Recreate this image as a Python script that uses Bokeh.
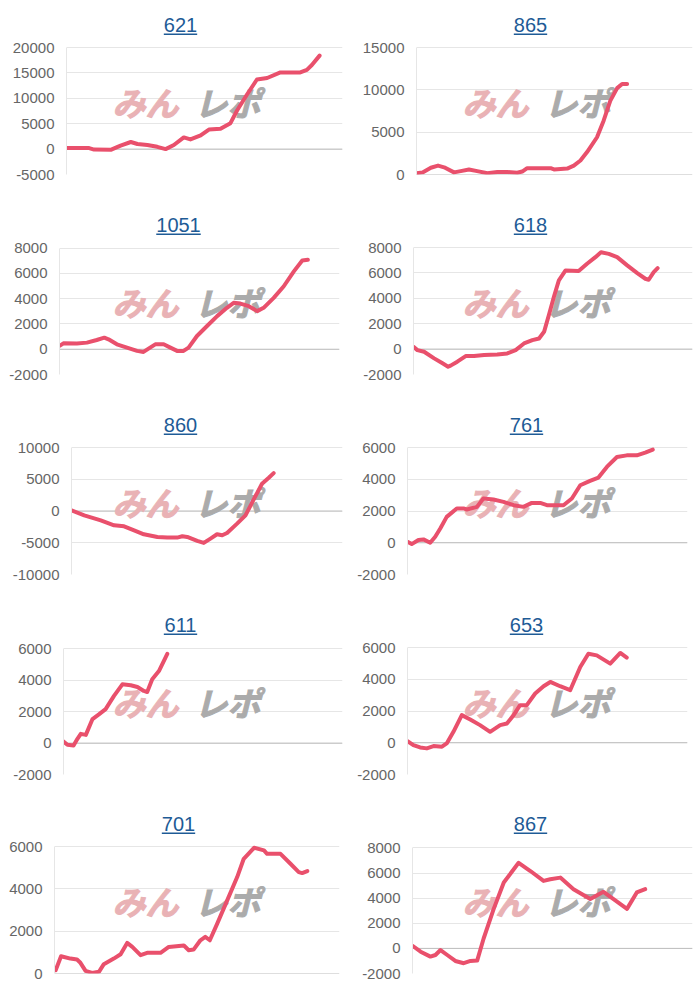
from bokeh.plotting import figure
from bokeh.models import Label, BoxAnnotation, FixedTicker, Range1d, Span
from bokeh.layouts import column, row
from bokeh.embed import file_html
from bokeh.resources import INLINE

# ---------------- data ----------------
titles = ["621", "865", "1051", "618", "860", "761", "611", "653", "701", "867"]

x_621 = [0, 8.2, 10.0, 16.0, 19.6, 23.3, 25.7, 29.3, 32.9, 35.9, 38.9, 42.5, 44.9, 48.6, 51.6, 55.8, 59.4, 61.8, 65.4, 69.0, 72.7, 77.5, 84.7, 87.1, 88.9, 91.7]
y_621 = [200, 200, -100, -150, 700, 1400, 1000, 800, 450, 0, 800, 2300, 1900, 2700, 3850, 4000, 5100, 7600, 10750, 13700, 14000, 15100, 15100, 15600, 16550, 18400]

x_865 = [0, 2.2, 5.2, 7.8, 10.0, 13.6, 16.0, 19.0, 22.0, 25.7, 29.3, 32.9, 36.5, 38.3, 40.1, 48.6, 49.8, 54.6, 57.0, 59.4, 61.8, 65.4, 67.8, 70.2, 72.7, 74.5, 76.3]
y_865 = [150, 250, 800, 1050, 850, 250, 400, 600, 400, 150, 300, 300, 200, 350, 750, 750, 600, 700, 1050, 1650, 2650, 4400, 6350, 8700, 10200, 10700, 10700]

x_1051 = [0, 1.4, 6.2, 9.8, 13.3, 16.0, 17.5, 20.5, 24.1, 27.7, 30.0, 31.8, 34.2, 37.2, 39.6, 42.0, 44.3, 46.1, 49.1, 52.7, 56.3, 59.8, 62.2, 64.6, 67.6, 70.6, 72.9, 76.5, 80.1, 83.7, 86.7, 88.7]
y_1051 = [260, 470, 450, 525, 735, 920, 790, 390, 130, -130, -210, 50, 390, 390, 130, -130, -130, 130, 1050, 1840, 2625, 3280, 3675, 3620, 3410, 3020, 3280, 4070, 4990, 6170, 7035, 7090]

x_618 = [0, 1.4, 3.8, 7.4, 10.4, 12.4, 13.3, 15.7, 18.7, 21.7, 25.3, 30.0, 33.6, 36.6, 39.6, 42.6, 45.0, 46.8, 48.5, 50.3, 52.1, 54.5, 59.2, 62.2, 65.2, 67.2, 70.0, 73.0, 76.6, 80.2, 83.1, 84.3, 86.1, 87.5]
y_618 = [180, -80, -210, -730, -1120, -1385, -1300, -990, -550, -550, -470, -420, -340, -80, 445, 705, 835, 1360, 2665, 4100, 5410, 6195, 6150, 6720, 7240, 7630, 7500, 7240, 6590, 5985, 5540, 5460, 6065, 6380]

x_860 = [0, 4.7, 10.8, 15.7, 19.4, 23.1, 26.7, 31.7, 35.3, 39.0, 40.9, 42.7, 46.4, 48.8, 51.3, 53.7, 55.6, 57.4, 61.1, 64.2, 67.2, 70.3, 72.8, 74.6]
y_860 = [100, -680, -1470, -2250, -2410, -3040, -3665, -4085, -4190, -4190, -3980, -4085, -4710, -5025, -4345, -3665, -3820, -3455, -1990, -680, 1780, 4295, 5235, 5970]

x_761 = [0, 1.5, 3.9, 5.7, 8.1, 9.9, 11.7, 14.0, 17.6, 20.0, 21.2, 24.8, 27.1, 30.7, 34.3, 37.9, 41.4, 44.4, 47.4, 49.8, 55.7, 58.7, 61.7, 65.2, 68.2, 71.2, 74.8, 78.3, 81.9, 84.9, 87.6]
y_761 = [60, -85, 170, 210, 0, 380, 900, 1630, 2160, 2160, 2095, 2260, 2785, 2720, 2575, 2365, 2260, 2510, 2510, 2365, 2365, 2785, 3620, 3895, 4105, 4775, 5400, 5505, 5505, 5675, 5865]

x_611 = [0, 1.4, 3.6, 5.0, 6.2, 8.0, 10.4, 12.8, 15.1, 18.1, 21.1, 24.1, 26.5, 28.8, 30.0, 31.8, 34.2, 37.2]
y_611 = [105, -105, -150, 275, 590, 525, 1535, 1850, 2170, 3010, 3745, 3685, 3580, 3325, 3260, 4065, 4590, 5685]

x_653 = [0, 2.1, 4.5, 6.9, 9.3, 12.3, 14.0, 16.4, 19.4, 22.4, 25.9, 29.5, 33.1, 35.5, 37.9, 40.2, 42.6, 45.6, 48.6, 51.0, 54.5, 58.1, 61.7, 64.6, 67.6, 72.4, 76.0, 78.3]
y_653 = [105, -145, -295, -355, -210, -250, -40, 690, 1740, 1465, 1110, 690, 1110, 1215, 1740, 2365, 2365, 3100, 3560, 3830, 3560, 3310, 4775, 5610, 5505, 4985, 5655, 5360]

x_701 = [0.4, 2.3, 5.6, 7.9, 9.1, 10.9, 13.2, 15.6, 17.3, 20.8, 23.2, 25.5, 27.3, 30.2, 32.5, 37.2, 40.1, 45.4, 47.1, 48.8, 51.2, 52.9, 54.5, 57.1, 60.6, 64.1, 66.4, 70.0, 73.5, 74.6, 79.3, 82.8, 85.7, 86.9, 88.7]
y_701 = [155, 815, 705, 660, 505, 125, 30, 80, 440, 705, 910, 1445, 1255, 865, 975, 975, 1255, 1320, 1100, 1130, 1570, 1730, 1570, 2355, 3455, 4555, 5420, 5940, 5815, 5655, 5655, 5185, 4790, 4745, 4840]

x_867 = [0, 2.9, 6.4, 8.2, 10.0, 12.4, 15.3, 18.3, 20.7, 23.1, 25.4, 29.0, 32.6, 37.9, 42.1, 46.8, 49.2, 52.8, 57.5, 63.5, 68.2, 71.8, 76.6, 80.1, 83.1]
y_867 = [210, -260, -655, -525, -130, -525, -1000, -1180, -1000, -970, 790, 3150, 5245, 6820, 6165, 5375, 5510, 5640, 4720, 3935, 4510, 3935, 3150, 4460, 4720]

xs = [x_621, x_865, x_1051, x_618, x_860, x_761, x_611, x_653, x_701, x_867]
ys = [y_621, y_865, y_1051, y_618, y_860, y_761, y_611, y_653, y_701, y_867]

y_ticks = [
    [-5000, 0, 5000, 10000, 15000, 20000],
    [0, 5000, 10000, 15000],
    [-2000, 0, 2000, 4000, 6000, 8000],
    [-2000, 0, 2000, 4000, 6000, 8000],
    [-10000, -5000, 0, 5000, 10000],
    [-2000, 0, 2000, 4000, 6000],
    [-2000, 0, 2000, 4000, 6000],
    [-2000, 0, 2000, 4000, 6000],
    [0, 2000, 4000, 6000],
    [-2000, 0, 2000, 4000, 6000, 8000],
]

# ---------------- layout / style ----------------
LINE = "#e9506c"
GRID = "#e6e6e6"
ZERO = "#bdbdbd"
TITLE_C = "#1e5b96"
FONT = "Liberation Sans"
DATA_H = 127          # pixel height between the top and bottom tick
FRAME_TOP = 4         # frame starts this far below the figure top (title lives in frame)
FIG_W = 350

border_left = [66, 66, 59, 63, 71, 57, 63, 57, 54, 62]
border_right = [8, 8, 11, 8, 8, 13, 8, 13, 11, 8]
tick_top = [47, 47, 48, 47, 47, 47, 49, 47, 46, 48]     # top tick line below figure top
row_h = [200, 200, 200, 200, 198]
title_cx = [180, 180, 178, 180, 180, 176, 180, 176, 178, 180]   # relative to figure left
WM_SPLIT_L, WM_SPLIT_R = 178, 194                               # watermark halves, rel. figure left

figs = []
for i, name in enumerate(titles):
    r = i // 2
    h = row_h[r]
    bl, br, tt = border_left[i], border_right[i], tick_top[i]
    ticks = y_ticks[i]
    lo, hi = ticks[0], ticks[-1]
    extra = (hi - lo) * (tt - FRAME_TOP) / DATA_H
    p = figure(width=FIG_W, height=h, output_backend="svg", toolbar_location=None,
               title=None, x_axis_location=None,
               x_range=Range1d(0, 100), y_range=Range1d(lo, hi + extra),
               min_border_left=bl, min_border_right=br, min_border_top=FRAME_TOP,
               min_border_bottom=h - tt - DATA_H)
    p.outline_line_color = None
    p.background_fill_color = "white"
    p.border_fill_color = "white"
    p.xgrid.visible = False
    tk = FixedTicker(ticks=ticks)
    p.yaxis.ticker = tk
    p.ygrid.ticker = tk
    p.yaxis.bounds = (lo, hi)
    p.yaxis.major_label_overrides = {t: str(t) for t in ticks}
    p.ygrid.grid_line_color = GRID
    p.ygrid.grid_line_width = 1
    p.yaxis.axis_line_color = GRID
    p.yaxis.major_tick_line_color = None
    p.yaxis.minor_tick_line_color = None
    p.yaxis.major_tick_out = 0
    p.yaxis.major_label_standoff = 12
    p.yaxis.major_label_text_font = FONT
    p.yaxis.major_label_text_font_size = "15px"
    p.yaxis.major_label_text_color = "#666666"

    # zero line
    p.add_layout(Span(location=0, dimension="width", line_color=ZERO, line_width=1, level="underlay"))

    # watermark (logo text)
    wy = DATA_H / 2 + 9
    p.add_layout(Label(x=WM_SPLIT_L - bl, y=wy, x_units="screen", y_units="screen",
                       text="みん", text_align="right", text_baseline="middle",
                       text_font="Noto Sans CJK JP", text_font_style="bold italic",
                       text_font_size="33px", text_color="#e9b2b5",
                       text_outline_color="#e9b2b5", level="underlay"))
    p.add_layout(Label(x=WM_SPLIT_R - bl, y=wy, x_units="screen", y_units="screen",
                       text="レポ", text_align="left", text_baseline="middle",
                       text_font="Noto Sans CJK JP", text_font_style="bold italic",
                       text_font_size="33px", text_color="#ababab",
                       text_outline_color="#ababab", level="underlay"))

    p.line(xs[i], ys[i], line_color=LINE, line_width=4, line_join="round", line_cap="round")

    # title with underline (inside the extended frame)
    tx = title_cx[i] - bl
    p.add_layout(Label(x=tx, y=DATA_H + 23, x_units="screen", y_units="screen",
                       text=name, text_align="center", text_baseline="alphabetic",
                       text_font=FONT, text_font_size="20px", text_color=TITLE_C))
    w = len(name) * 0.556 * 20
    p.add_layout(BoxAnnotation(left=tx - w / 2, right=tx + w / 2,
                               bottom=DATA_H + 12.6, top=DATA_H + 14,
                               left_units="screen", right_units="screen",
                               bottom_units="screen", top_units="screen",
                               fill_color=TITLE_C, fill_alpha=1, line_color=None))
    figs.append(p)

layout = column(*[row(figs[2 * k], figs[2 * k + 1]) for k in range(5)])

open("out.html", "w").write(file_html(layout, INLINE))
